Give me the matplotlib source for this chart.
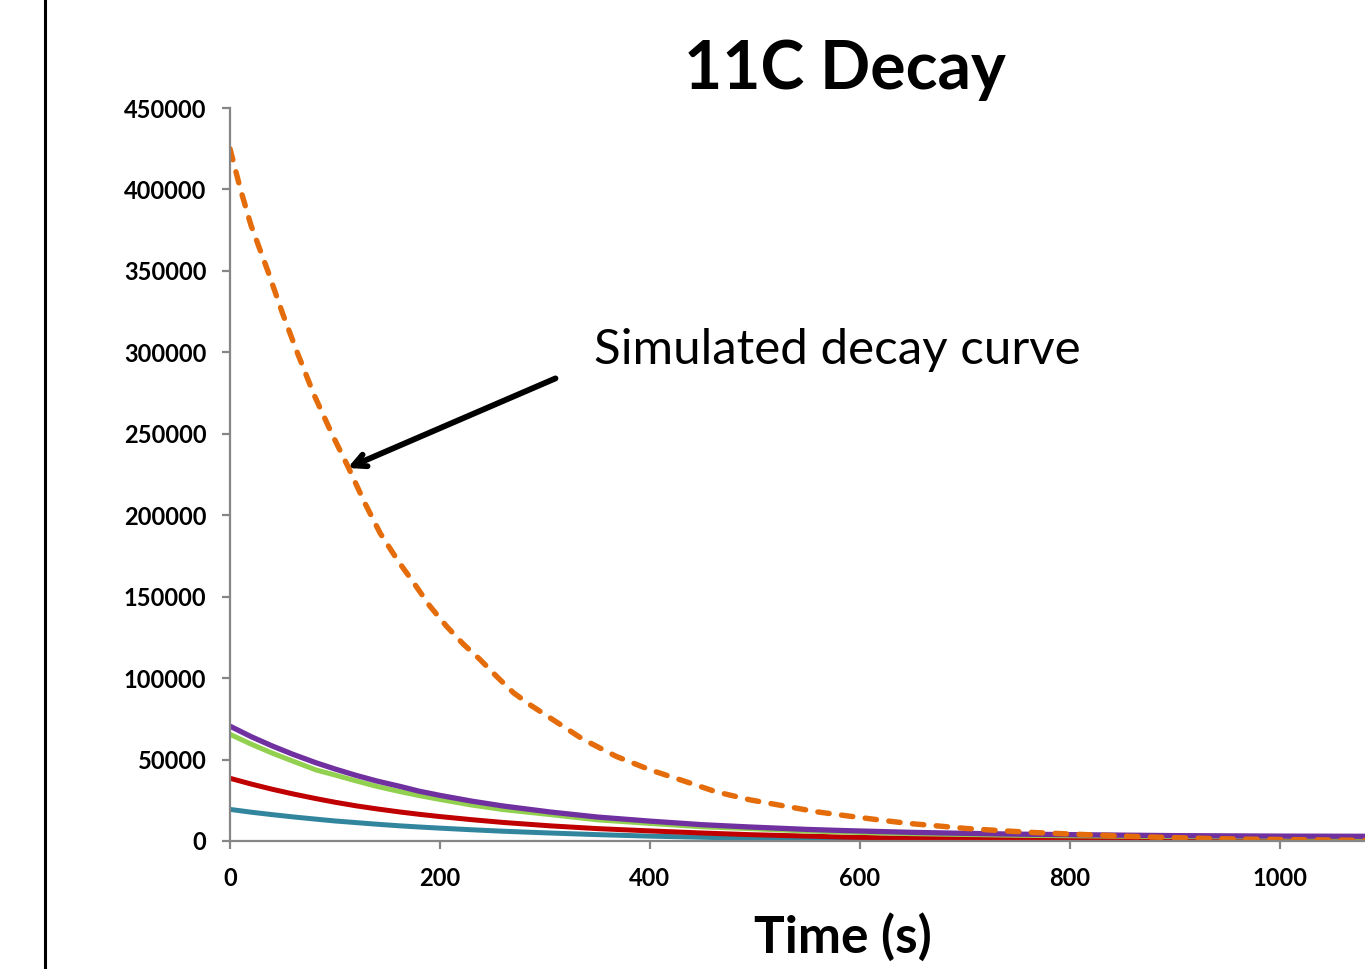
import matplotlib
matplotlib.use("Agg")
import matplotlib.pyplot as plt
from matplotlib.lines import Line2D

plt.rcParams['font.family'] = ['Lato', 'DejaVu Sans']

# ---- data ----
orange_t = [0, 10, 20, 36, 50, 64, 80, 97, 113, 128, 143, 160, 175, 190, 206, 222,
            238, 254, 270, 286, 302, 336, 368, 400, 432, 463, 495, 527, 559, 587,
            620, 646, 675, 701, 735, 766, 800, 830, 860, 896, 930, 961, 1020, 1081]
orange_v = [425000, 400000, 378000, 350000, 324000, 300000, 274000, 250000, 229000,
            208000, 189000, 172000, 158500, 144500, 132000, 121000, 111500, 101000,
            91000, 83500, 76800, 62500, 51900, 43700, 36900, 30200, 25300, 21600,
            17900, 15500, 12800, 10800, 9200, 7700, 6300, 5200, 4300, 3550, 2800,
            2100, 1600, 1200, 800, 400]

curve_t = [0, 20, 40, 60, 82, 100, 120, 140, 162, 180, 200, 230, 260, 305, 350,
           400, 450, 495, 550, 590, 650, 700, 750, 800, 900, 1000, 1081]
purple_v = [70500, 64100, 58400, 53200, 48000, 44200, 40300, 36800, 33500, 30600,
            28000, 24500, 21500, 17800, 14700, 12200, 10000, 8600, 7100, 6300, 5300,
            4700, 4200, 3900, 3300, 3000, 2900]
green_v = [65500, 59500, 54000, 49000, 43600, 40500, 36900, 33500, 30300, 27900,
           25500, 22100, 19300, 16200, 13000, 10800, 8700, 7600, 6100, 5400, 4500,
           4000, 3500, 3200, 2700, 2400, 2300]
red_v = [38500, 35000, 31800, 28900, 26000, 23800, 21600, 19700, 17800, 16400,
         15000, 13100, 11400, 9300, 7600, 6200, 4900, 3900, 3000, 2300, 1700,
         1400, 1100, 900, 650, 500, 450]
teal_v = [19400, 17700, 16200, 14800, 13400, 12300, 11300, 10300, 9300, 8600,
          7900, 6900, 6000, 4900, 3900, 3000, 2300, 1700, 1250, 950, 650,
          500, 400, 300, 200, 150, 100]

x_ticks = [0, 200, 400, 600, 800, 1000]
y_ticks = [0, 50000, 100000, 150000, 200000, 250000, 300000, 350000, 400000, 450000]

title = "11C Decay"
xlabel = "Time (s)"
note = "Simulated decay curve"

# ---- figure ----
fig = plt.figure(figsize=(13.65, 9.69), dpi=100)
ax = fig.add_axes([230/1365, 1-841/969, 1-230/1365, (841-108)/969])

ax.plot(curve_t, teal_v, color='#31859C', lw=3.6, solid_capstyle='round')
ax.plot(curve_t, red_v, color='#C00000', lw=3.6, solid_capstyle='round')
ax.plot(curve_t, green_v, color='#92D050', lw=3.6, solid_capstyle='round')
ax.plot(curve_t, purple_v, color='#7030A0', lw=3.8, solid_capstyle='round')
ax.plot(orange_t, orange_v, color='#E46C0A', lw=3.9, linestyle=(0, (2.1, 2.3)),
        dash_capstyle='round')

ax.set_xlim(0, 1081)
ax.set_ylim(0, 450000)
ax.set_xticks(x_ticks)
ax.set_yticks(y_ticks)
ax.set_xticklabels([str(v) for v in x_ticks])
ax.set_yticklabels([str(v) for v in y_ticks])

for s in ['top', 'right']:
    ax.spines[s].set_visible(False)
for s in ['left', 'bottom']:
    ax.spines[s].set_color('#868686')
    ax.spines[s].set_linewidth(1.6)
ax.tick_params(axis='both', direction='out', length=6, width=1.6, color='#868686',
               labelsize=17)
ax.tick_params(axis='y', pad=11)
ax.tick_params(axis='x', pad=13)
for lab in ax.get_xticklabels() + ax.get_yticklabels():
    lab.set_fontweight('bold')

fig.text(845/1365, 1-70/969, title, ha='center', va='center',
         fontsize=47.5, fontweight='bold')
fig.text(843/1365, 1-937/969, xlabel, ha='center', va='center',
         fontsize=37, fontweight='bold')

ax.annotate(note, xy=(112, 229000), xytext=(347, 293000), textcoords='data',
            fontsize=35.5, ha='left', va='baseline')
ax.annotate('', xy=(112, 229000), xytext=(310, 284000),
            arrowprops=dict(arrowstyle='->,head_length=0.9,head_width=0.45',
                            color='black', lw=4.2, shrinkA=0, shrinkB=0))

fig.add_artist(Line2D([45/1365, 45/1365], [0, 1], transform=fig.transFigure,
                      color='black', lw=2.2))

fig.savefig('out.png', dpi=100)
